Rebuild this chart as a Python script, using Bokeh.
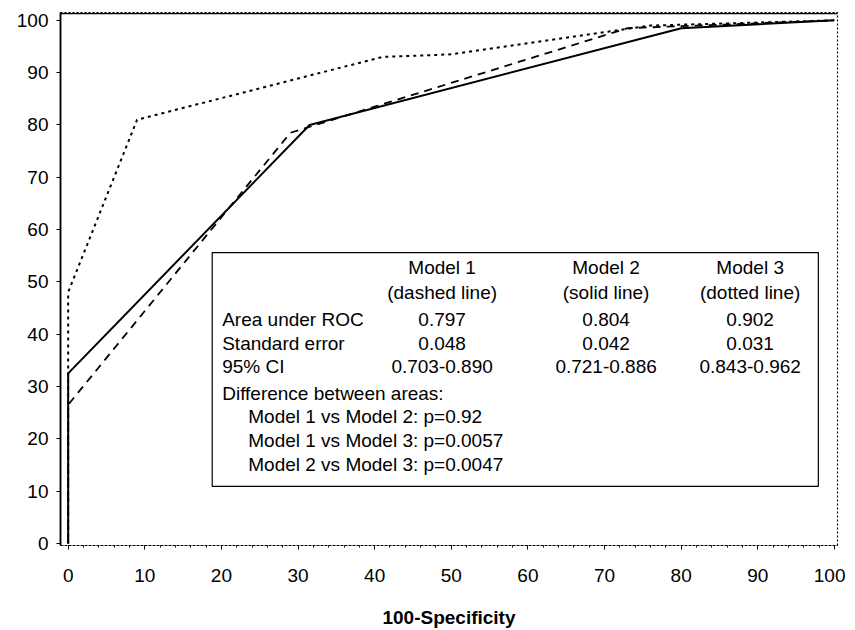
from bokeh.plotting import figure
from bokeh.models import BoxAnnotation, Span, FixedTicker
from bokeh.core.properties import value
from bokeh.embed import file_html
from bokeh.resources import INLINE

# ROC curves (100-Specificity vs Sensitivity)
m1_x = [0, 0, 29, 40, 73, 100]
m1_y = [0, 26.5, 78.5, 83.5, 98.5, 100]
m2_x = [0, 0, 31.5, 80, 100]
m2_y = [0, 32.5, 80, 98.5, 100]
m3_x = [0, 0, 9, 41, 50, 76, 100]
m3_y = [0, 48, 81, 93, 93.5, 99, 100]

x_ticks = list(range(0, 101, 10))
y_ticks = list(range(0, 101, 10))

# table content
models = ["Model 1", "Model 2", "Model 3"]
styles = ["(dashed line)", "(solid line)", "(dotted line)"]
row_labels = ["Area under ROC", "Standard error", "95% CI"]
auc = ["0.797", "0.804", "0.902"]
se = ["0.048", "0.042", "0.031"]
ci = ["0.703-0.890", "0.721-0.886", "0.843-0.962"]
diff_title = "Difference between areas:"
comparisons = ["Model 1 vs Model 2: p=0.92",
               "Model 1 vs Model 3: p=0.0057",
               "Model 2 vs Model 3: p=0.0047"]

FONT = "Liberation Sans"
FS = "19px"

p = figure(width=845, height=630, x_range=(-1.0, 100.4), y_range=(-0.4, 101.5),
           output_backend="svg", toolbar_location=None,
           min_border_left=60, min_border_right=8, min_border_top=12, min_border_bottom=83)
p.xgrid.visible = False
p.ygrid.visible = False
p.background_fill_color = "white"
p.border_fill_color = "white"
p.outline_line_color = "black"
p.outline_line_dash = "2 2"
p.outline_line_width = 1.2

p.xaxis.ticker = FixedTicker(ticks=x_ticks, minor_ticks=list(range(0, 101, 2)))
p.yaxis.ticker = FixedTicker(ticks=y_ticks)
for ax in (p.xaxis, p.yaxis):
    ax.major_label_text_font = FONT
    ax.major_label_text_font_size = FS
    ax.major_label_text_color = "black"
    ax.major_tick_line_color = "black"
    ax.major_tick_in = 0
    ax.major_tick_out = 4
    ax.minor_tick_in = 0
    ax.minor_tick_out = 2
    ax.minor_tick_line_color = "black"
p.xaxis.axis_line_dash = "2 2"
p.xaxis.axis_line_width = 1.2
p.yaxis.axis_line_width = 1.8
p.yaxis.major_label_standoff = 8
p.xaxis.major_label_standoff = 19
p.xaxis.axis_label = "100-Specificity"
p.xaxis.axis_label_text_font = FONT
p.xaxis.axis_label_text_font_size = FS
p.xaxis.axis_label_text_font_style = "bold"
p.xaxis.axis_label_text_color = "black"
p.xaxis.axis_label_standoff = 22

p.add_layout(Span(location=101.3, dimension="width", line_color="black", line_width=1.5))

p.line(m2_x, m2_y, line_color="black", line_width=2)
p.line(m1_x, m1_y, line_color="black", line_width=1.8, line_dash="8 6")
p.line(m3_x, m3_y, line_color="black", line_width=2, line_dash="3 4")

# table box
p.add_layout(BoxAnnotation(left=18.8, right=97.9, top=55.6, bottom=10.9,
                           fill_color="white", fill_alpha=1.0,
                           line_color="black", line_alpha=1.0, line_width=1.2))

col_x = [48.8, 70.2, 89.0]
lab_x = 20.1
ind_x = 23.5
y_model, y_style = 52.8, 48.0
y_rows = [42.9, 38.3, 33.9]
y_diff = 28.6
y_comp = [24.2, 19.6, 15.0]

txt = dict(text_font=value(FONT), text_font_size=value(FS), text_color="black",
           text_baseline="middle", level="overlay")

p.text(x=col_x, y=[y_model] * 3, text=models, text_align="center", **txt)
p.text(x=col_x, y=[y_style] * 3, text=styles, text_align="center", **txt)
p.text(x=[lab_x] * 3, y=y_rows, text=row_labels, text_align="left", **txt)
p.text(x=col_x, y=[y_rows[0]] * 3, text=auc, text_align="center", **txt)
p.text(x=col_x, y=[y_rows[1]] * 3, text=se, text_align="center", **txt)
p.text(x=col_x, y=[y_rows[2]] * 3, text=ci, text_align="center", **txt)
p.text(x=[lab_x], y=[y_diff], text=[diff_title], text_align="left", **txt)
p.text(x=[ind_x] * 3, y=y_comp, text=comparisons, text_align="left", **txt)

open("out.html", "w").write(file_html(p, INLINE))
